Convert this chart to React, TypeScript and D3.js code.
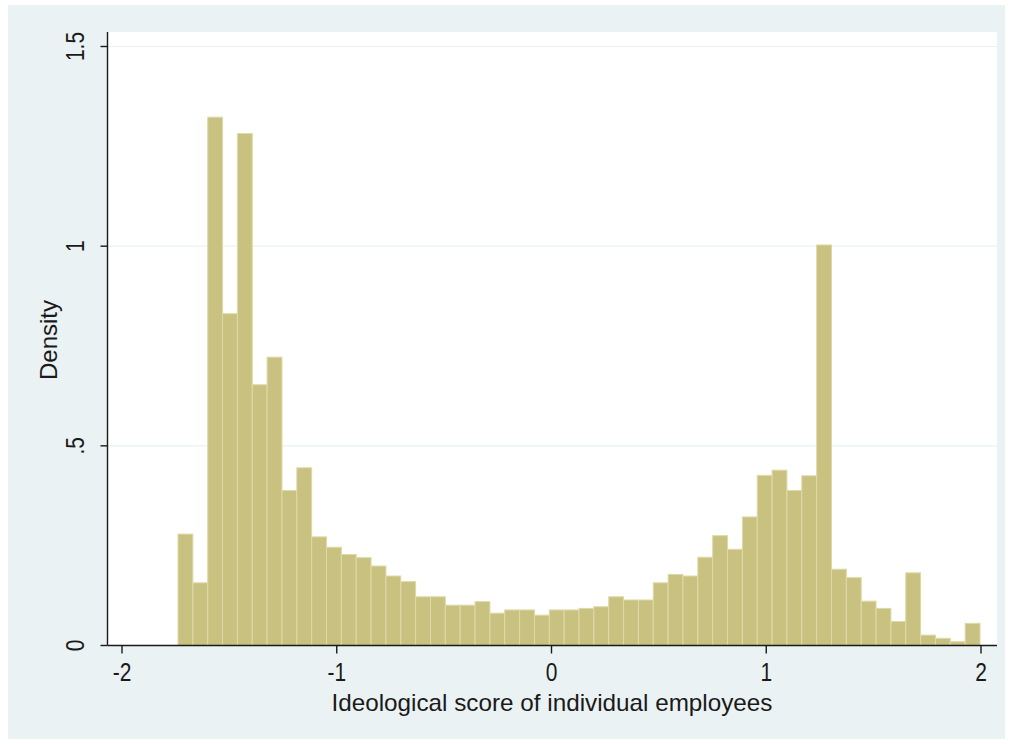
import React, { useEffect } from "react";
import * as d3 from "d3";

// Histogram of employee ideology scores (density scale)
const binStart = -1.7392;
const binWidth = 0.06916;
const densities = [
  0.279, 0.157, 1.323, 0.831, 1.282, 0.653, 0.722, 0.388, 0.445, 0.272,
  0.246, 0.228, 0.220, 0.199, 0.174, 0.160, 0.122, 0.122, 0.101, 0.101,
  0.110, 0.081, 0.089, 0.089, 0.076, 0.089, 0.089, 0.093, 0.097, 0.122,
  0.114, 0.114, 0.157, 0.178, 0.174, 0.221, 0.275, 0.241, 0.322, 0.426,
  0.439, 0.388, 0.425, 1.003, 0.191, 0.170, 0.111, 0.093, 0.060, 0.182,
  0.026, 0.018, 0.0095, 0.0555,
];
const xTicks = [-2, -1, 0, 1, 2];
const yTicks = [0, 0.5, 1, 1.5];
const yTickLabels = ["0", ".5", "1", "1.5"];
const xTitle = "Ideological score of individual employees";
const yTitle = "Density";

const W = 1013;
const H = 744;
const plot = { left: 107.5, right: 997, top: 32, bottom: 645.5 };

export default function App() {
  useEffect(() => {
    document.body.style.margin = "0";
  }, []);

  const x = d3.scaleLinear().domain([-2, 2]).range([122, 981]);
  const y = d3.scaleLinear().domain([0, 1.5]).range([645.5, 46.5]);

  const bins = densities.map((d, i) => ({
    x0: binStart + i * binWidth,
    x1: binStart + (i + 1) * binWidth,
    d,
  }));

  const font = "'Liberation Sans', Arial, sans-serif";
  const textColor = "#1a1a1a";
  const squeeze = 0.84; // narrow, tall lettering

  return (
    <svg width={W} height={H} style={{ display: "block" }}>
      <rect x={0} y={0} width={W} height={H} fill="#ffffff" />
      <rect x={8} y={5} width={997} height={734} fill="#EAF2F3" />
      <rect
        x={plot.left}
        y={plot.top}
        width={plot.right - plot.left}
        height={plot.bottom - plot.top}
        fill="#ffffff"
      />
      {/* grid */}
      {yTicks
        .filter((t) => t > 0)
        .map((t) => (
          <line
            key={"g" + t}
            x1={plot.left}
            x2={plot.right}
            y1={y(t)}
            y2={y(t)}
            stroke="#EAF2F3"
            strokeWidth={1.2}
          />
        ))}
      {/* bars */}
      {bins.map((b, i) => (
        <rect
          key={i}
          x={x(b.x0)}
          y={y(b.d)}
          width={x(b.x1) - x(b.x0)}
          height={y(0) - y(b.d)}
          fill="#C9C17F"
          stroke="#DEDAA8"
          strokeWidth={1}
        />
      ))}
      {/* axes */}
      <line
        x1={plot.left}
        x2={plot.left}
        y1={plot.top}
        y2={plot.bottom}
        stroke="#1a1a1a"
        strokeWidth={1.4}
      />
      <line
        x1={plot.left}
        x2={plot.right}
        y1={plot.bottom}
        y2={plot.bottom}
        stroke="#1a1a1a"
        strokeWidth={1.4}
      />
      {yTicks.map((t, i) => (
        <g key={"yt" + t}>
          <line
            x1={plot.left - 7}
            x2={plot.left}
            y1={y(t)}
            y2={y(t)}
            stroke="#1a1a1a"
            strokeWidth={1.4}
          />
          <text
            transform={`translate(${84},${y(t)}) rotate(-90) scale(${squeeze},1)`}
            textAnchor="middle"
            fontFamily={font}
            fontSize={25}
            fill={textColor}
          >
            {yTickLabels[i]}
          </text>
        </g>
      ))}
      {xTicks.map((t) => (
        <g key={"xt" + t}>
          <line
            x1={x(t)}
            x2={x(t)}
            y1={plot.bottom}
            y2={plot.bottom + 8}
            stroke="#1a1a1a"
            strokeWidth={1.4}
          />
          <text
            transform={`translate(${x(t)},${681}) scale(${squeeze},1)`}
            textAnchor="middle"
            fontFamily={font}
            fontSize={25}
            fill={textColor}
          >
            {t}
          </text>
        </g>
      ))}
      <text
        x={552}
        y={711}
        textAnchor="middle"
        fontFamily={font}
        fontSize={24}
        fill={textColor}
        textLength={441}
        lengthAdjust="spacingAndGlyphs"
      >
        {xTitle}
      </text>
      <text
        transform={`translate(${57},${340}) rotate(-90)`}
        textAnchor="middle"
        fontFamily={font}
        fontSize={24}
        fill={textColor}
        textLength={80}
        lengthAdjust="spacingAndGlyphs"
      >
        {yTitle}
      </text>
    </svg>
  );
}
